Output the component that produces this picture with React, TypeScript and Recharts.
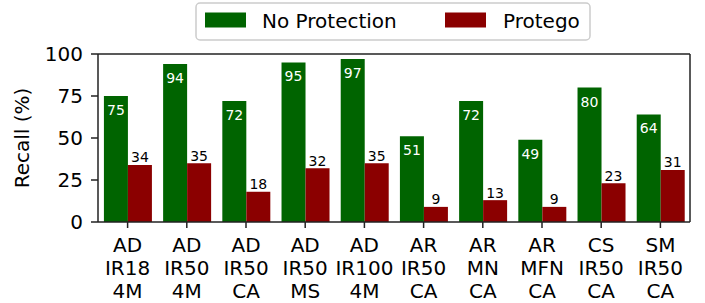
import React from 'react';
import { BarChart, Bar, XAxis, YAxis, Legend, LabelList } from 'recharts';

const FONT = 'DejaVu Sans, sans-serif';
const AXIS = '#222222';

// categories: lines of each tick label joined by spaces
const categories = [
  'AD IR18 4M',
  'AD IR50 4M',
  'AD IR50 CA',
  'AD IR50 MS',
  'AD IR100 4M',
  'AR IR50 CA',
  'AR MN CA',
  'AR MFN CA',
  'CS IR50 CA',
  'SM IR50 CA',
];
const noProtection = [75, 94, 72, 95, 97, 51, 72, 49, 80, 64];
const protego = [34, 35, 18, 32, 35, 9, 13, 9, 23, 31];
const yTicks = [0, 25, 50, 75, 100];

const data = categories.map((name, i) => ({
  name,
  noProtection: noProtection[i],
  protego: protego[i],
}));

const XTick = (props: any) => {
  const { x, y, payload } = props;
  const lines = String(payload.value).split(' ');
  return (
    <g transform={`translate(${x},${y})`}>
      {lines.map((l, i) => (
        <text key={i} x={0} y={22.3 + i * 22.7} textAnchor="middle" fontSize={20} fill="#000" fontFamily={FONT}>
          {l}
        </text>
      ))}
    </g>
  );
};

const greenLabel = (props: any) => {
  const { x, y, width, value } = props;
  return (
    <text x={x + width / 2} y={y + 19} textAnchor="middle" fill="#fff" fontSize={14} fontFamily={FONT}>
      {value}
    </text>
  );
};

const redLabel = (props: any) => {
  const { x, y, width, value } = props;
  return (
    <text x={x + width / 2} y={y - 2.5} textAnchor="middle" fill="#000" fontSize={14} fontFamily={FONT}>
      {value}
    </text>
  );
};

const yLabel = (props: any) => {
  const { viewBox } = props;
  const cy = viewBox.y + viewBox.height / 2;
  return (
    <text x={29} y={cy} transform={`rotate(-90, 29, ${cy})`} textAnchor="middle" fontSize={20} fill="#000" fontFamily={FONT}>
      Recall (%)
    </text>
  );
};

const LegendBox = () => (
  <svg width={396} height={39}>
    <rect x={1} y={1} width={394} height={37} rx={4} fill="#fff" stroke="#cccccc" strokeWidth={1.5} />
    <rect x={10} y={10.5} width={41} height={15} fill="#006400" />
    <text x={67} y={25.5} fontSize={20} fill="#000" fontFamily={FONT}>No Protection</text>
    <rect x={250} y={10.5} width={41} height={15} fill="#8b0000" />
    <text x={308} y={25.5} fontSize={20} fill="#000" fontFamily={FONT}>Protego</text>
  </svg>
);

export default function App() {
  return (
    <div style={{ position: 'absolute', left: 0, top: 0 }}>
      <BarChart
        width={705}
        height={303}
        data={data}
        margin={{ top: 53, right: 14, left: 0, bottom: 0 }}
        barCategoryGap="10%"
        barGap={0}
      >
        <XAxis
          dataKey="name"
          height={81}
          interval={0}
          tickSize={6}
          tickLine={{ stroke: AXIS, strokeWidth: 1.5 }}
          axisLine={{ stroke: AXIS, strokeWidth: 1.5 }}
          tick={<XTick />}
        />
        <XAxis xAxisId="top" orientation="top" dataKey="name" height={1} tick={false} tickLine={false} axisLine={{ stroke: AXIS, strokeWidth: 1.5 }} />
        <YAxis
          width={98}
          domain={[0, 100]}
          ticks={yTicks}
          tickSize={7}
          tickMargin={8}
          tickLine={{ stroke: AXIS, strokeWidth: 1.5 }}
          axisLine={{ stroke: AXIS, strokeWidth: 1.5 }}
          tick={{ fontSize: 20, fill: '#000', fontFamily: FONT }}
          label={yLabel}
        />
        <YAxis yAxisId="right" orientation="right" width={1} domain={[0, 100]} tick={false} tickLine={false} axisLine={{ stroke: AXIS, strokeWidth: 1.5 }} />
        <Legend
          layout="horizontal"
          verticalAlign="middle"
          align="center"
          content={<LegendBox />}
          wrapperStyle={{ position: 'absolute', top: 2, left: 195, width: 396, height: 39 }}
        />
        <Bar dataKey="noProtection" fill="#006400" isAnimationActive={false}>
          <LabelList dataKey="noProtection" content={greenLabel} />
        </Bar>
        <Bar dataKey="protego" fill="#8b0000" isAnimationActive={false}>
          <LabelList dataKey="protego" content={redLabel} />
        </Bar>
      </BarChart>
    </div>
  );
}
